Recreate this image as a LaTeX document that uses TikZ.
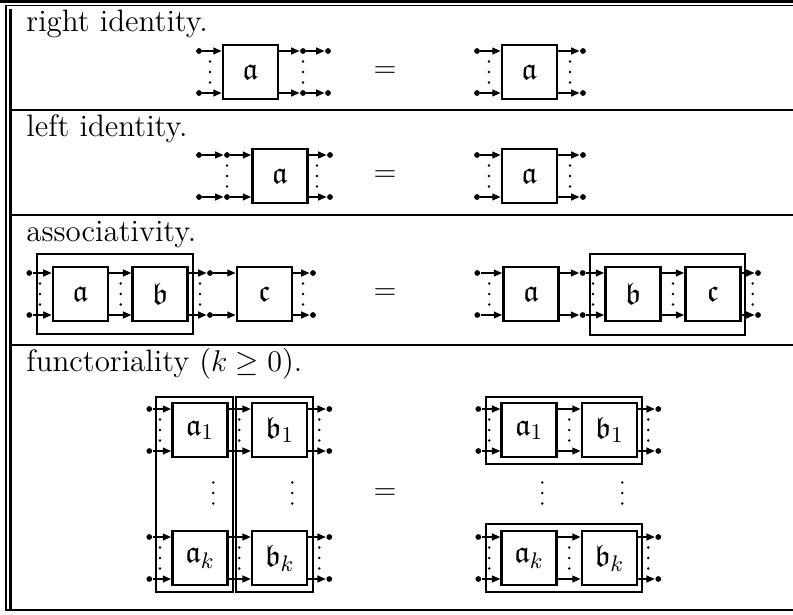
\documentclass[tikz,border=0pt]{standalone}
\usepackage{amssymb}
\usetikzlibrary{arrows.meta}
\newcommand\mydp[3]{\node[wdot] (#1u) at (#2,{#3-21}) {};\node[wdot] (#1d) at (#2,{#3+21}) {};}
\newcommand\mydc[2]{\foreach \f in {-10.5,0,10.5}{\fill ({#1},{#2+\f}) circle[radius=0.55pt];}}
\newcommand\mydb[2]{\draw[wire] (#1u) -- (#1u -| #2.west); \draw[wire] (#1d) -- (#1d -| #2.west);}
\newcommand\mybd[2]{\draw[wire] (#1.east |- #2u) -- (#2u); \draw[wire] (#1.east |- #2d) -- (#2d);}
\newcommand\mydd[2]{\draw[wire] (#1u) -- (#2u); \draw[wire] (#1d) -- (#2d);}
\newcommand\mybb[2]{\draw[wire] ([yshift=8.4pt]#1.east) -- ([yshift=8.4pt]#2.west); \draw[wire] ([yshift=-8.4pt]#1.east) -- ([yshift=-8.4pt]#2.west);}
\begin{document}
\begin{tikzpicture}[x=0.4pt,y=-0.4pt,
  bx/.style={draw, line width=1pt, minimum width=22pt, minimum height=21.6pt, inner sep=0pt, font=\fontsize{12.4}{14}\selectfont},
  wdot/.style={circle, fill, inner sep=0pt, minimum size=2.3pt},
  wire/.style={line width=0.75pt, -{Triangle[length=3.4pt,width=2.7pt]}},
  frm/.style={line width=0.8pt},
  lbl/.style={inner sep=0pt, font=\fontsize{12.4}{14}\selectfont},
  rule/.style={line width=0.85pt}]
\useasboundingbox (0,0) rectangle (793,614);
% table rules
\draw[line width=1.2pt] (0,1.5) -- (793,1.5);
\draw[line width=0.55pt] (5,5.5) -- (793,5.5);
\draw[line width=0.8pt] (6,5.5) -- (6,610);
\draw[line width=1.1pt] (10.5,9) -- (10.5,610);
\draw[rule] (10.5,110) -- (793,110);
\draw[rule] (10.5,215) -- (793,215);
\draw[rule] (10.5,345) -- (793,345);
\draw[rule] (5,610) -- (793,610);
% labels
\node[lbl, anchor=base west] (t1) at (26,31) {right identity.};
\node[lbl, anchor=base west] (t2) at (26,136) {left identity.};
\node[lbl, anchor=base west] (t3) at (26,241) {associativity.};
\node[lbl, anchor=base west] (t4) at (26,371) {functoriality ($k\geq 0$).};
\node[lbl] (e1) at (385,72) {$=$};
\node[lbl] (e2) at (385,176) {$=$};
\node[lbl] (e3) at (385,294) {$=$};
\node[lbl] (e4) at (385,494) {$=$};
% ---- row 1
\mydp{rA}{199}{72}
\node[bx] (ra) at (250.5,72) {$\mathfrak{a}$};
\mydp{rB}{303}{72}
\mydp{rC}{328}{72}
\mydb{rA}{ra} \mybd{ra}{rB} \mydd{rB}{rC}
\mydc{210}{72} \mydc{303}{72}
\mydp{rD}{477}{72}
\node[bx] (rb) at (529.5,72) {$\mathfrak{a}$};
\mydp{rE}{583}{72}
\mydb{rD}{rb} \mybd{rb}{rE}
\mydc{489}{72} \mydc{570}{72}
% ---- row 2
\mydp{lA}{199}{176}
\mydp{lB}{227}{176}
\node[bx] (la) at (280,176) {$\mathfrak{a}$};
\mydp{lC}{330}{176}
\mydd{lA}{lB} \mydb{lB}{la} \mybd{la}{lC}
\mydc{227}{176} \mydc{317}{176}
\mydp{lD}{477}{176}
\node[bx] (lb) at (529.5,176) {$\mathfrak{a}$};
\mydp{lE}{583}{176}
\mydb{lD}{lb} \mybd{lb}{lE}
\mydc{489}{176} \mydc{570}{176}
% ---- row 3
\mydp{aA}{29.3}{294}
\draw[frm] (37,254) rectangle (193,334);
\node[bx] (aa) at (80.5,294) {$\mathfrak{a}$};
\node[bx] (ab) at (160.2,294) {$\mathfrak{b}$};
\mydp{aB}{210}{294}
\node[bx] (ac) at (264.5,294) {$\mathfrak{c}$};
\mydp{aC}{313}{294}
\mydb{aA}{aa} \mybb{aa}{ab} \mybd{ab}{aB} \mydb{aB}{ac} \mybd{ac}{aC}
\mydc{40}{294} \mydc{120.7}{294} \mydc{200}{294} \mydc{303}{294}
\mydp{aD}{477.3}{294}
\node[bx] (ad) at (531,294) {$\mathfrak{a}$};
\mydp{aE}{582.7}{294}
\draw[frm] (590,254) rectangle (745,335);
\node[bx] (ae) at (633,294) {$\mathfrak{b}$};
\node[bx] (af) at (713,294) {$\mathfrak{c}$};
\mydp{aF}{758}{294}
\mydb{aD}{ad} \mybd{ad}{aE} \mydb{aE}{ae} \mybb{ae}{af} \mybd{af}{aF}
\mydc{489.3}{294} \mydc{593}{294} \mydc{673}{294} \mydc{752.7}{294}
% ---- row 4 left
\draw[frm] (156,396.7) rectangle (232.7,591.7);
\draw[frm] (236,396.7) rectangle (312.7,591.7);
\mydp{fA}{149.3}{430}
\mydp{fB}{149.3}{558}
\node[bx] (fa1) at (200,430) {$\mathfrak{a}_1$};
\node[bx] (fak) at (200,558) {$\mathfrak{a}_k$};
\node[bx] (fb1) at (279.7,430) {$\mathfrak{b}_1$};
\node[bx] (fbk) at (279.7,558) {$\mathfrak{b}_k$};
\mydp{fC}{329.3}{430}
\mydp{fD}{329.3}{558}
\mydb{fA}{fa1} \mydb{fB}{fak} \mybb{fa1}{fb1} \mybb{fak}{fbk} \mybd{fb1}{fC} \mybd{fbk}{fD}
\mydc{160}{430} \mydc{239.3}{430} \mydc{319.3}{430}
\mydc{160}{558} \mydc{239.3}{558} \mydc{319.3}{558}
\mydc{213.3}{493} \mydc{292.3}{493}
% ---- row 4 right
\draw[frm] (485.7,396.7) rectangle (641.7,464);
\draw[frm] (485.7,524) rectangle (641.7,591.7);
\mydp{gA}{478.3}{430}
\mydp{gB}{478.3}{558}
\node[bx] (ga1) at (529.2,430) {$\mathfrak{a}_1$};
\node[bx] (gak) at (529.2,558) {$\mathfrak{a}_k$};
\node[bx] (gb1) at (609.5,430) {$\mathfrak{b}_1$};
\node[bx] (gbk) at (609.5,558) {$\mathfrak{b}_k$};
\mydp{gC}{658.3}{430}
\mydp{gD}{658.3}{558}
\mydb{gA}{ga1} \mydb{gB}{gak} \mybb{ga1}{gb1} \mybb{gak}{gbk} \mybd{gb1}{gC} \mybd{gbk}{gD}
\mydc{489.3}{430} \mydc{569.3}{430} \mydc{648.3}{430}
\mydc{489.3}{558} \mydc{569.3}{558} \mydc{648.3}{558}
\mydc{542.3}{493} \mydc{622.3}{493}
\end{tikzpicture}
\end{document}
